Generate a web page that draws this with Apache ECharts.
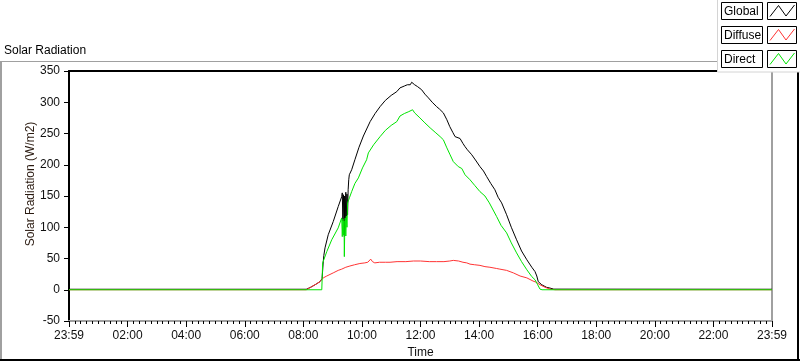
<!DOCTYPE html>
<html>
<head>
<meta charset="utf-8">
<script src="https://cdn.jsdelivr.net/npm/echarts@6/dist/echarts.min.js"></script>
<style>
html,body{margin:0;padding:0;background:#fff;}
#chart{width:800px;height:361px;}
</style>
</head>
<body>
<div id="chart"></div>
<script>
// ---- data (time in hours since start of the window, value in W/m2) ----
const seriesNames = ['Global', 'Diffuse', 'Direct'];
const xTickHours = [0, 2, 4, 6, 8, 10, 12, 14, 16, 18, 20, 22, 24];
const xTickLabels = ['23:59', '02:00', '04:00', '06:00', '08:00', '10:00', '12:00', '14:00', '16:00', '18:00', '20:00', '22:00', '23:59'];

const globalT = [0, 8.1, 8.25, 8.4, 8.57, 8.64, 8.66, 8.68, 8.7, 8.74, 8.85, 9.02, 9.19, 9.31,
  9.33, 9.35, 9.37, 9.39, 9.40, 9.41, 9.43, 9.45, 9.47, 9.49, 9.51, 9.53, 9.55, 9.57, 9.65, 9.76,
  9.9, 10.05, 10.28, 10.45, 10.62, 10.8, 11.0, 11.19, 11.3, 11.45, 11.55, 11.6, 11.65, 11.7, 11.74,
  11.8, 11.9, 12.04, 12.15, 12.27, 12.4, 12.55, 12.65, 12.78, 12.9, 13.0, 13.1, 13.18, 13.22, 13.35,
  13.45, 13.52, 13.6, 13.75, 13.9, 14.03, 14.15, 14.26, 14.4, 14.54, 14.65, 14.77, 14.94, 15.1, 15.28,
  15.45, 15.63, 15.8, 15.91, 15.97, 16.02, 16.08, 16.14, 16.3, 16.42, 16.55, 16.6, 24];
const globalV = [0.8, 0.8, 4, 8, 13, 18, 21, 45, 55, 67, 88, 109, 133, 149,
  155, 110, 152, 107, 85, 150, 112, 156, 115, 153, 120, 160, 176, 184, 192, 208,
  228, 246, 269, 282, 293, 303, 311, 317, 323, 326, 328, 330, 328, 332, 333,
  328, 325, 320, 313, 307, 300, 293, 289, 283, 272, 261, 252, 245, 243, 242,
  234, 229, 224, 216, 206, 197, 190, 181, 170, 160, 148, 139, 120, 100, 80,
  62, 48, 36, 29, 22, 13, 10, 8, 4, 2.7, 1, 0.8, 0.8];

const diffuseT = [0, 8.1, 8.25, 8.4, 8.57, 8.68, 8.8, 9.02, 9.19, 9.31, 9.45, 9.59, 9.75, 9.93,
  10.1, 10.2, 10.25, 10.3, 10.36, 10.44, 10.6, 10.8, 10.96, 11.2, 11.5, 11.76, 12.0, 12.3, 12.55,
  12.8, 13.0, 13.12, 13.3, 13.45, 13.58, 13.69, 13.85, 14.03, 14.2, 14.37, 14.6, 14.71, 14.94, 15.17,
  15.4, 15.63, 15.84, 15.95, 16.08, 16.25, 16.42, 16.6, 24];
const diffuseV = [0, 0, 4, 8, 13, 19, 22, 27, 31, 33, 36, 38, 40, 42,
  43, 44, 47, 49, 45, 43, 44, 44, 44, 45, 45, 46, 46, 45, 45,
  45, 46, 47, 46, 44, 43, 41, 40, 39, 37, 36, 34, 33, 31, 27,
  22, 19, 14, 12, 8, 4, 1, 0, 0];

const directT = [0, 8.63, 8.66, 8.8, 8.97, 9.19, 9.31,
  9.33, 9.35, 9.37, 9.39, 9.4, 9.41, 9.43, 9.45, 9.47, 9.49, 9.51, 9.58, 9.65, 9.76, 9.88,
  10.02, 10.16, 10.22, 10.4, 10.62, 10.8, 11.0, 11.19, 11.3, 11.45, 11.6, 11.73, 11.8, 11.98,
  12.15, 12.33, 12.5, 12.67, 12.78, 12.9, 13.0, 13.12, 13.29, 13.41, 13.52, 13.69, 13.85, 14.03,
  14.2, 14.35, 14.6, 14.75, 14.94, 15.1, 15.28, 15.45, 15.63, 15.8, 15.91, 16.0, 16.08, 16.15, 24];
const directV = [0, 0, 43, 61, 80, 99, 115,
  85, 113, 88, 110, 53, 84, 115, 86, 118, 100, 139, 148, 157, 170, 179,
  195, 208, 219, 232, 245, 255, 263, 269, 278, 282, 285, 288, 283, 275,
  267, 259, 252, 245, 240, 227, 217, 205, 197, 194, 184, 176, 167, 157,
  150, 139, 117, 103, 91, 75, 59, 45, 32, 21, 16, 8, 1, 0, 0];

const seriesColors = ['#000000', '#ff3434', '#00e400'];

function pairs(t, v) { return t.map((x, i) => [x, v[i]]); }
const seriesData = [pairs(globalT, globalV), pairs(diffuseT, diffuseV), pairs(directT, directV)];

const FONT = '"Liberation Sans", Arial, sans-serif';
const chart = echarts.init(document.getElementById('chart'), null, { renderer: 'canvas' });

function labelFor(v) {
  const i = xTickHours.indexOf(Math.round(v * 1000) / 1000);
  return i >= 0 ? xTickLabels[i] : '';
}

// legend drawn as boxed items (LabVIEW style)
const legendEls = [];
legendEls.push({ type: 'rect', shape: { x: 717.5, y: -1, width: 84, height: 73 },
  style: { fill: '#ffffff', stroke: '#d4d4d4', lineWidth: 1 }, z: 100 });
seriesNames.forEach((name, i) => {
  const y0 = 2.5 + i * 24;
  legendEls.push({ type: 'rect', shape: { x: 721.5, y: y0, width: 41, height: 17 },
    style: { fill: '#fff', stroke: '#000', lineWidth: 1 }, z: 101 });
  legendEls.push({ type: 'text', x: 724, y: y0 + 9, z: 102,
    style: { text: name, font: '12px ' + FONT, fill: '#000', textAlign: 'left', textVerticalAlign: 'middle' } });
  legendEls.push({ type: 'rect', shape: { x: 767.5, y: y0, width: 29, height: 17 },
    style: { fill: '#fff', stroke: '#000', lineWidth: 1 }, z: 101 });
  legendEls.push({ type: 'polyline', z: 102,
    shape: { points: [[770, y0 + 14], [778.5, y0 + 3], [786, y0 + 13.5], [794.5, y0 + 2.5]] },
    style: { stroke: seriesColors[i], lineWidth: 1, fill: null } });
});

const option = {
  animation: false,
  backgroundColor: '#ffffff',
  grid: { left: 69, top: 71, width: 703, height: 250, containLabel: false, outerBoundsMode: 'none' },
  xAxis: [{
    type: 'value', min: 0, max: 24, interval: 2, position: 'bottom',
    axisLine: { show: true, onZero: false, lineStyle: { color: '#a0a0a0', width: 2 } },
    axisTick: { show: true, length: 6, lineStyle: { color: '#000', width: 1 } },
    minorTick: { show: true, splitNumber: 10, length: 3, lineStyle: { color: '#000', width: 1 } },
    splitLine: { show: false }, minorSplitLine: { show: false },
    axisLabel: { formatter: labelFor, color: '#101010', fontSize: 12, fontFamily: FONT, margin: 9,
      showMinLabel: true, showMaxLabel: true },
    name: 'Time', nameLocation: 'middle', nameGap: 26,
    nameTextStyle: { color: '#101010', fontSize: 12, fontFamily: FONT }
  }, {
    type: 'value', min: 0, max: 24, position: 'top',
    axisLine: { show: true, onZero: false, lineStyle: { color: '#000', width: 2 } },
    axisTick: { show: false }, axisLabel: { show: false }, splitLine: { show: false }
  }],
  yAxis: [{
    type: 'value', min: -50, max: 350, interval: 50, position: 'left',
    axisLine: { show: true, onZero: false, lineStyle: { color: '#000', width: 2 } },
    axisTick: { show: true, length: 5, lineStyle: { color: '#000', width: 1 } },
    splitLine: { show: false },
    axisLabel: { color: '#101010', fontSize: 12, fontFamily: FONT, margin: 9 }
  }, {
    type: 'value', min: -50, max: 350, position: 'right',
    axisLine: { show: true, onZero: false, lineStyle: { color: '#a0a0a0', width: 2 } },
    axisTick: { show: false }, axisLabel: { show: false }, splitLine: { show: false }
  }],
  series: seriesNames.map((name, i) => ({
    name: name, type: 'line', data: seriesData[i], xAxisIndex: 0, yAxisIndex: 0,
    showSymbol: false, symbol: 'none', smooth: false,
    lineStyle: { color: seriesColors[i], width: 1 },
    itemStyle: { color: seriesColors[i] },
    emphasis: { disabled: true }
  })),
  graphic: [
    // outer panel frame
    { type: 'line', shape: { x1: 0, y1: 61.5, x2: 718, y2: 61.5 }, style: { stroke: '#a0a0a0', lineWidth: 1 } },
    { type: 'line', shape: { x1: 1, y1: 61, x2: 1, y2: 360 }, style: { stroke: '#a0a0a0', lineWidth: 2 } },
    { type: 'line', shape: { x1: 0, y1: 360, x2: 800, y2: 360 }, style: { stroke: '#000', lineWidth: 2 } },
    { type: 'line', shape: { x1: 798, y1: 61, x2: 798, y2: 361 }, style: { stroke: '#000', lineWidth: 2 } },
    // title
    { type: 'text', x: 4, y: 51, style: { text: 'Solar Radiation', font: '12px ' + FONT, fill: '#000',
      textAlign: 'left', textVerticalAlign: 'middle' } },
    // y axis name
    { type: 'text', x: 31, y: 184, rotation: Math.PI / 2,
      style: { text: 'Solar Radiation (W/m2)', font: '12px ' + FONT, fill: '#2a1a10',
        textAlign: 'center', textVerticalAlign: 'middle' } }
  ].concat(legendEls)
};
chart.setOption(option);
</script>
</body>
</html>
